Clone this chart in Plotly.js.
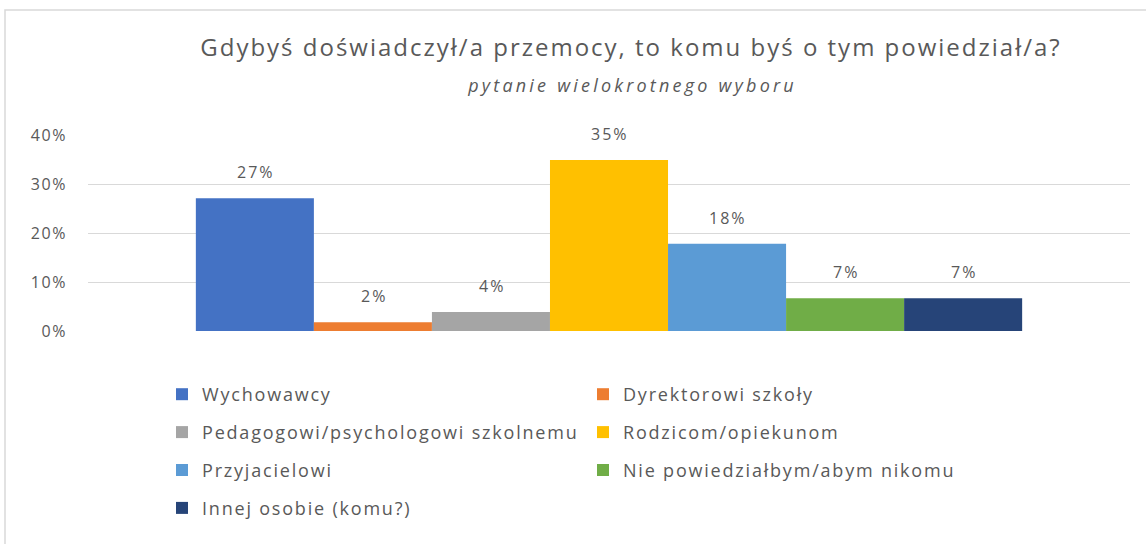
<!DOCTYPE html>
<html><head><meta charset="utf-8">
<script src="https://cdn.plot.ly/plotly-3.0.1.min.js"></script>
<style>
html,body{margin:0;padding:0;background:#fff}#chart{width:1146px;height:544px}
.gtitle{letter-spacing:2px}
.annotation.sub .annotation-text{letter-spacing:3.2px}
.annotation.lbl .annotation-text{letter-spacing:2px}
text.legendtext, text.legend2text{letter-spacing:1.8px}
.ytick text{letter-spacing:1.6px}
</style>
</head><body><div id="chart"></div>
<script>
const titleText = 'Gdybyś doświadczył/a przemocy, to komu byś o tym powiedział/a?';
const subtitleText = 'pytanie wielokrotnego wyboru';
const category = ['Pytanie'];
const seriesNames = ['Wychowawcy','Dyrektorowi szkoły','Pedagogowi/psychologowi szkolnemu','Rodzicom/opiekunom','Przyjacielowi','Nie powiedziałbym/abym nikomu','Innej osobie (komu?)'];
const seriesValues = [0.271, 0.018, 0.039, 0.349, 0.178, 0.067, 0.067];
const seriesColors = ['#4472C4','#ED7D31','#A5A5A5','#FFC000','#5B9BD5','#70AD47','#264478'];
const yTickVals = [0, 0.1, 0.2, 0.3, 0.4];

const W = 1146, H = 544;
const M = {l: 88, r: 16, t: 135, b: 213};
const bargap = 0.207;
const FONT = '"Open Sans", sans-serif';
const GREY = '#595959';
const plotW = W - M.l - M.r, plotH = H - M.t - M.b;
const barW = plotW * (1 - bargap) / seriesValues.length;

const traces = seriesValues.map((v, i) => ({
  type: 'bar', x: category, y: [v], name: seriesNames[i],
  marker: {color: seriesColors[i]},
  legend: i % 2 === 0 ? 'legend' : 'legend2',
  legendgroup: 'g' + i,
  hoverinfo: 'none'
}));

const annotations = seriesValues.map((v, i) => ({
  x: category[0], y: v, xref: 'x', yref: 'y',
  text: Math.round(v * 100) + '%', showarrow: false,
  xshift: (i - (seriesValues.length - 1) / 2) * barW + 1,
  yanchor: 'bottom', yshift: 13,
  font: {family: FONT, size: 16, color: GREY}
}));
annotations.push({
  xref: 'paper', yref: 'paper', x: (632 - M.l) / plotW, y: (H - M.b - 85) / plotH,
  text: '<i>' + subtitleText + '</i>', showarrow: false, xanchor: 'center', yanchor: 'middle',
  font: {family: FONT, size: 18, color: GREY}
});

const legendBase = {
  orientation: 'v', traceorder: 'grouped', tracegroupgap: 11.5,
  font: {family: FONT, size: 18, color: GREY},
  itemwidth: 30, bgcolor: 'rgba(0,0,0,0)',
  xanchor: 'left', yanchor: 'top', y: (H - M.b - 376) / plotH
};

const layout = {
  width: W, height: H, margin: M,
  paper_bgcolor: '#fff', plot_bgcolor: '#fff',
  bargap: bargap, bargroupgap: 0, barmode: 'group',
  title: {text: titleText, font: {family: FONT, size: 24, color: GREY},
    x: 631 / W, xanchor: 'center', xref: 'container', y: 1 - 48 / H, yanchor: 'middle', yref: 'container'},
  xaxis: {showticklabels: false, showgrid: false, zeroline: false, showline: false, ticks: ''},
  yaxis: {range: [0, 0.4], tickvals: yTickVals, tickformat: '.0%', showgrid: true, gridcolor: '#d9d9d9', gridwidth: 1,
    zeroline: false, showline: false, ticks: '', ticklabelstandoff: 20,
    tickfont: {family: FONT, size: 16, color: GREY}},
  legend: Object.assign({}, legendBase, {x: (162 - M.l) / plotW}),
  legend2: Object.assign({}, legendBase, {x: (583 - M.l) / plotW}),
  annotations: annotations,
  shapes: [{type: 'rect', xref: 'paper', yref: 'paper',
    x0: (5 - M.l) / plotW, x1: (W + 5 - M.l) / plotW,
    y0: (H - M.b - 560) / plotH, y1: (H - M.b - 10) / plotH,
    line: {color: '#d9d9d9', width: 1.5}, fillcolor: 'rgba(0,0,0,0)', layer: 'below'}],
  showlegend: true
};
Plotly.newPlot('chart', traces, layout, {displayModeBar: false, staticPlot: true}).then(function () {
  const anns = document.querySelectorAll('#chart .annotation');
  anns.forEach(function (a, i) { a.classList.add(i < seriesValues.length ? 'lbl' : 'sub'); });
});
</script></body></html>
